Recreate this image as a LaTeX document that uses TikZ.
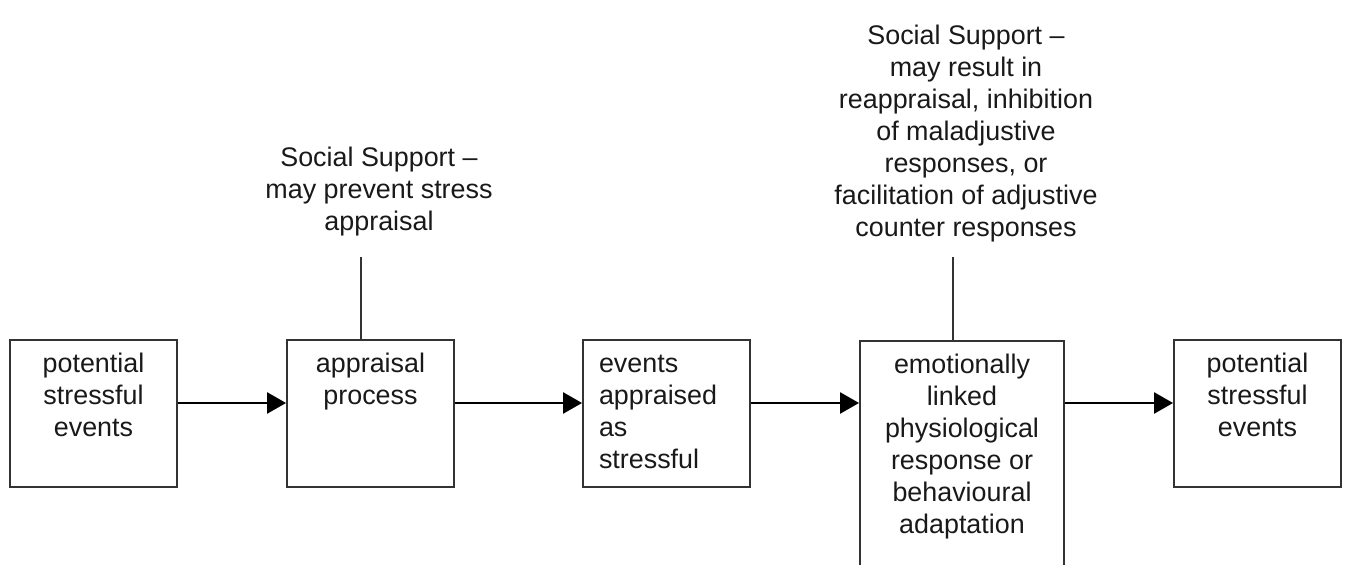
\documentclass[tikz,border=0pt]{standalone}
\usepackage{fontspec}
\setmainfont{Liberation Sans}
\usetikzlibrary{arrows.meta}
\newcommand{\bxtext}[4][\centering]{\parbox[c][#3][t]{#2}{#1\rule{0pt}{0.66cm}#4}}
\tikzset{
  box/.style={draw=black!80, line width=1.1pt, inner sep=0pt},
  lbl/.style={align=center, inner sep=0pt, anchor=north},
  flow/.style={line width=1.5pt, -{Triangle[length=0.38cm,width=0.42cm]}},
  stem/.style={line width=1.1pt, black!80},
}

\begin{document}
\begin{tikzpicture}[font=\fontsize{15.3}{18.2}\selectfont, text=black!90]
  \clip (0,0) rectangle (26.94,11.3);
  % boxes
  \node[box] (pse1) at ( 1.87,3.03) {\bxtext{3.34cm}{2.94cm}{potential\\stressful\\events}};
  \node[box] (appr) at ( 7.41,3.03) {\bxtext{3.34cm}{2.94cm}{appraisal\\process}};
  \node[box] (evst) at (13.33,3.03) {\bxtext[\raggedright\leftskip=0.32cm]{3.34cm}{2.94cm}{events\\appraised\\as\\stressful}};
  \node[box, anchor=north] (emol) at (19.24,4.5) {\bxtext{4.08cm}{5cm}{emotionally\\linked\\physiological\\response or\\behavioural\\adaptation}};
  \node[box] (pse2) at (25.15,3.03) {\bxtext{3.34cm}{2.94cm}{potential\\stressful\\events}};
  % social support
  \node[lbl] (ssa) at ( 7.58,8.36) {Social Support --\\may prevent stress\\appraisal};
  \node[lbl] (ssb) at (19.32,10.8) {Social Support --\\may result in\\reappraisal, inhibition\\of maladjustive\\responses, or\\facilitation of adjustive\\counter responses};
  \coordinate (ssatop) at ( 7.22,6.16);
  \coordinate (ssbtop) at (19.06,6.16);
  \draw[stem] (ssatop) -- (ssatop |- appr.north);
  \draw[stem] (ssbtop) -- (ssbtop |- emol.north);
  % arrows
  \coordinate (ay) at (0,3.24);
  \draw[flow] (pse1.east |- ay) -- (appr.west |- ay);
  \draw[flow] (appr.east |- ay) -- (evst.west |- ay);
  \draw[flow] (evst.east |- ay) -- (emol.west |- ay);
  \draw[flow] (emol.east |- ay) -- (pse2.west |- ay);
\end{tikzpicture}
\end{document}
